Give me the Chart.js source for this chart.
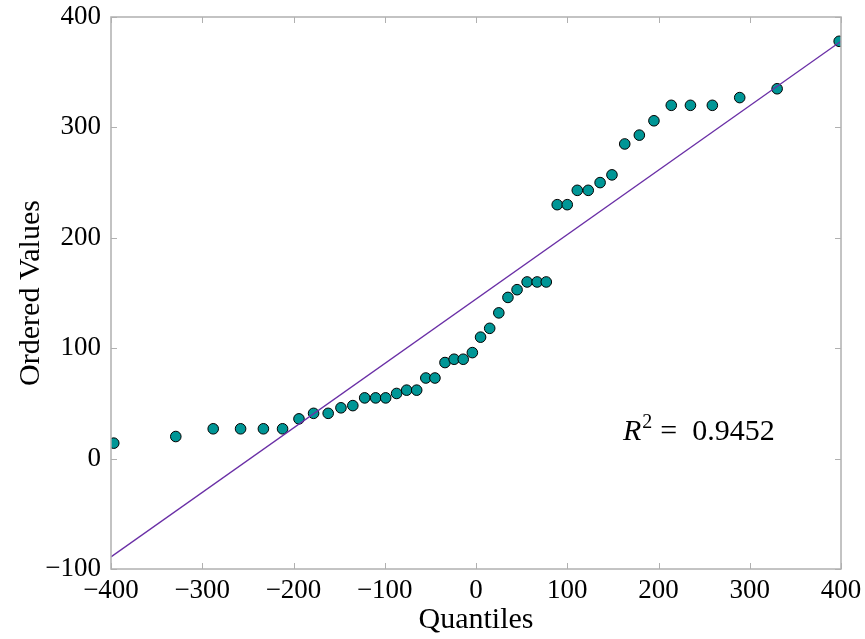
<!DOCTYPE html>
<html>
<head>
<meta charset="utf-8">
<script src="https://cdn.jsdelivr.net/npm/chart.js@4/dist/chart.umd.min.js"></script>
<style>
  html, body { margin: 0; padding: 0; background: #fff; }
  #wrap { width: 865px; height: 639px; }
</style>
</head>
<body>
<div id="wrap"><canvas id="qq"></canvas></div>
<script>
// theoretical quantiles (x) and ordered sample values (y)
const quantiles = [-397, -329, -288, -258, -233, -212, -194, -178, -162, -148, -135,
  -122, -110, -99, -87, -76, -65, -55, -45, -34, -24, -14, -4, 5, 15, 25, 35, 45,
  56, 67, 77, 89, 100, 111, 123, 136, 149, 163, 179, 195, 214, 235, 259, 289, 330, 398];
const orderedValues = [14, 20, 27, 27, 27, 27, 36, 41, 41, 46, 48,
  55, 55, 55, 59, 62, 62, 73, 73, 87, 90, 90, 96, 110, 118, 132, 146, 153,
  160, 160, 160, 230, 230, 243, 243, 250, 257, 285, 293, 306, 320, 320, 320, 327, 335, 378];
// least squares fit line, end points
const fitX = [-400, 400];
const fitY = [-89, 378];
const rSquared = '0.9452';

const xTicks = [-400, -300, -200, -100, 0, 100, 200, 300, 400];
const yTicks = [-100, 0, 100, 200, 300, 400];

const serif = "'Liberation Serif', 'DejaVu Serif', serif";
const minus = v => String(v).replace('-', '\u2212');

// inward ticks, frame and the R^2 note
const framePlugin = {
  id: 'frame',
  afterDatasetsDraw(chart) {
    const { ctx, chartArea: a, scales: { x, y } } = chart;
    ctx.save();
    ctx.strokeStyle = '#b0b0b0';
    ctx.lineWidth = 1;
    ctx.beginPath();
    xTicks.forEach(v => {
      const px = Math.round(x.getPixelForValue(v)) + 0.5;
      ctx.moveTo(px, a.bottom); ctx.lineTo(px, a.bottom - 6);
      ctx.moveTo(px, a.top); ctx.lineTo(px, a.top + 6);
    });
    yTicks.forEach(v => {
      const py = Math.round(y.getPixelForValue(v)) + 0.5;
      ctx.moveTo(a.left, py); ctx.lineTo(a.left + 6, py);
      ctx.moveTo(a.right, py); ctx.lineTo(a.right - 6, py);
    });
    ctx.stroke();
    ctx.lineWidth = 1.5;
    ctx.strokeRect(a.left, a.top, a.right - a.left, a.bottom - a.top);

    // R^2 = ...
    let tx = x.getPixelForValue(161);
    const ty = y.getPixelForValue(17);
    ctx.fillStyle = '#000';
    ctx.textBaseline = 'alphabetic';
    ctx.textAlign = 'left';
    ctx.font = 'italic 30px ' + serif;
    ctx.fillText('R', tx, ty);
    tx += ctx.measureText('R').width + 1;
    ctx.font = '20px ' + serif;
    ctx.fillText('2', tx, ty - 12);
    tx += ctx.measureText('2').width + 8;
    ctx.font = '30px ' + serif;
    ctx.fillText('=  ' + rSquared, tx, ty);
    ctx.restore();
  }
};

new Chart(document.getElementById('qq'), {
  type: 'scatter',
  data: {
    datasets: [{
      type: 'line',
      label: 'fit',
      data: fitX.map((v, i) => ({ x: v, y: fitY[i] })),
      borderColor: '#6a2fa6',
      borderWidth: 1.3,
      pointRadius: 0,
      fill: false,
      order: 0
    }, {
      label: 'values',
      data: quantiles.map((v, i) => ({ x: v, y: orderedValues[i] })),
      backgroundColor: '#009696',
      borderColor: '#000',
      borderWidth: 1,
      pointRadius: 5.3,
      order: 1
    }]
  },
  options: {
    responsive: true,
    maintainAspectRatio: false,
    animation: false,
    layout: { padding: { top: 17, right: 24, left: 0, bottom: 0 } },
    plugins: { legend: { display: false }, tooltip: { enabled: false } },
    scales: {
      x: {
        type: 'linear',
        min: -400, max: 400,
        afterBuildTicks: s => { s.ticks = xTicks.map(v => ({ value: v })); },
        afterFit: s => { s.height = 70; s.paddingLeft = 0; s.paddingRight = 0; },
        grid: { display: false, drawTicks: false },
        border: { display: false },
        ticks: { color: '#000', padding: 6, maxRotation: 0, font: { family: serif, size: 27 }, callback: minus },
        title: { display: true, text: 'Quantiles', color: '#000', padding: { top: 0, bottom: 1 }, font: { family: serif, size: 30 } }
      },
      y: {
        type: 'linear',
        min: -100, max: 400,
        afterBuildTicks: s => { s.ticks = yTicks.map(v => ({ value: v })); },
        afterFit: s => { s.width = 111; s.paddingTop = 0; s.paddingBottom = 0; },
        grid: { display: false, drawTicks: false },
        border: { display: false },
        ticks: { color: '#000', padding: 10, font: { family: serif, size: 27 }, callback: minus },
        title: { display: true, text: 'Ordered Values', color: '#000', padding: { top: 13, bottom: 0 }, font: { family: serif, size: 30 } }
      }
    }
  },
  plugins: [framePlugin]
});
</script>
</body>
</html>
